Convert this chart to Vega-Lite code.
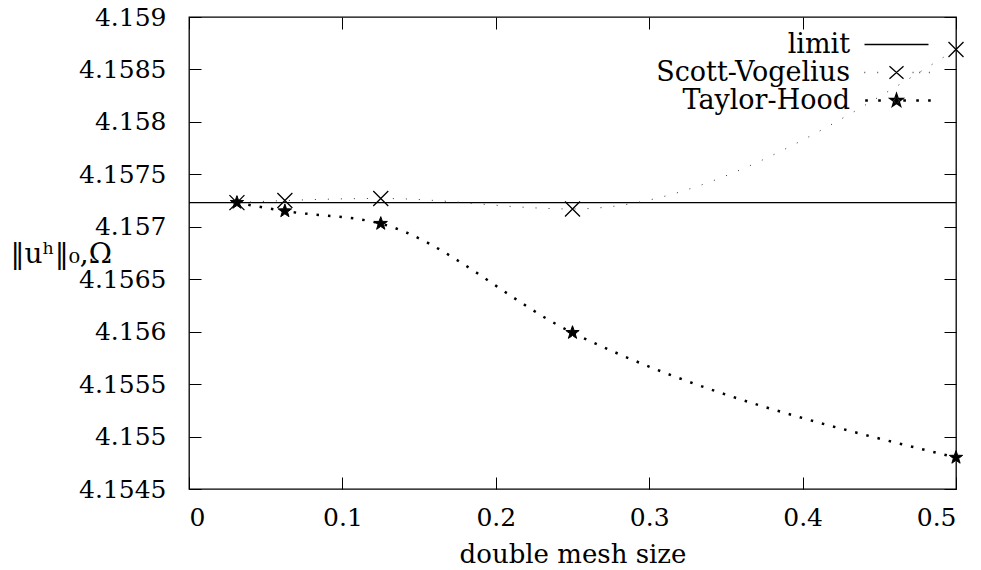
{
  "$schema": "https://vega.github.io/schema/vega-lite/v6.json",
  "width": 767,
  "height": 472,
  "autosize": "none",
  "padding": {"left": 189, "top": 17, "right": 25, "bottom": 81},
  "background": "white",
  "config": {
    "view": {"stroke": "black", "strokeWidth": 1.3},
    "font": "DejaVu Serif",
    "axis": {
      "domain": false, "grid": false, "tickColor": "black", "tickSize": -12, "tickWidth": 1,
      "labelFont": "DejaVu Serif", "labelFontSize": 25, "labelColor": "black",
      "titleFont": "DejaVu Serif", "titleFontSize": 26, "titleColor": "black", "titleFontWeight": "normal"
    }
  },
  "datasets": {
    "limit": [{"series": "limit", "value": 4.15723}],
    "runs": [
      {"series": "Scott-Vogelius", "h": 0.03125, "value": 4.15723},
      {"series": "Scott-Vogelius", "h": 0.0625, "value": 4.15725},
      {"series": "Scott-Vogelius", "h": 0.125, "value": 4.15727},
      {"series": "Scott-Vogelius", "h": 0.25, "value": 4.15717},
      {"series": "Scott-Vogelius", "h": 0.5, "value": 4.15869},
      {"series": "Taylor-Hood", "h": 0.03125, "value": 4.15723},
      {"series": "Taylor-Hood", "h": 0.0625, "value": 4.15715},
      {"series": "Taylor-Hood", "h": 0.125, "value": 4.15703},
      {"series": "Taylor-Hood", "h": 0.25, "value": 4.15599},
      {"series": "Taylor-Hood", "h": 0.5, "value": 4.1548}
    ]
  },
  "resolve": {"axis": {"x": "independent", "y": "independent"}},
  "layer": [
    {
      "data": {"name": "limit"},
      "mark": {"type": "rule", "color": "black", "strokeWidth": 1.3},
      "encoding": {
        "y": {"field": "value", "type": "quantitative", "scale": {"domain": [4.1545, 4.159], "zero": false, "nice": false}, "axis": null}
      }
    },
    {
      "data": {"name": "runs"},
      "transform": [{"filter": "datum.series === 'Scott-Vogelius'"}],
      "mark": {"type": "line", "interpolate": "monotone", "stroke": "#333333", "strokeWidth": 1, "strokeDash": [1, 12]},
      "encoding": {
        "x": {"field": "h", "type": "quantitative", "scale": {"domain": [0, 0.5], "zero": false, "nice": false},
          "axis": {"orient": "bottom", "values": [0, 0.1, 0.2, 0.3, 0.4, 0.5], "format": ".1~f", "labelPadding": 28.5, "title": "double mesh size", "titleY": 73, "titleBaseline": "alphabetic"}},
        "y": {"field": "value", "type": "quantitative", "scale": {"domain": [4.1545, 4.159], "zero": false, "nice": false},
          "axis": {"orient": "left", "values": [4.1545, 4.155, 4.1555, 4.156, 4.1565, 4.157, 4.1575, 4.158, 4.1585, 4.159], "format": ".4~f", "labelPadding": 35,
            "title": "‖uʰ‖₀,Ω", "titleAngle": 0, "titleAlign": "left", "titleBaseline": "alphabetic", "titleX": -179, "titleY": 245, "titleFontSize": 28}}
      }
    },
    {
      "data": {"name": "runs"},
      "transform": [{"filter": "datum.series === 'Taylor-Hood'"}],
      "mark": {"type": "line", "interpolate": "monotone", "stroke": "black", "strokeWidth": 2.5, "strokeDash": [2.5, 9]},
      "encoding": {
        "x": {"field": "h", "type": "quantitative", "scale": {"domain": [0, 0.5], "zero": false, "nice": false},
          "axis": {"orient": "top", "values": [0, 0.1, 0.2, 0.3, 0.4, 0.5], "labels": false, "title": null}},
        "y": {"field": "value", "type": "quantitative", "scale": {"domain": [4.1545, 4.159], "zero": false, "nice": false},
          "axis": {"orient": "right", "values": [4.1545, 4.155, 4.1555, 4.156, 4.1565, 4.157, 4.1575, 4.158, 4.1585, 4.159], "labels": false, "title": null}}
      }
    },
    {
      "data": {"name": "runs"},
      "transform": [{"filter": "datum.series === 'Scott-Vogelius'"}],
      "mark": {"type": "point", "shape": "M-1,-1L1,1M-1,1L1,-1", "filled": false, "stroke": "black", "strokeWidth": 1.3, "opacity": 1, "size": 225},
      "encoding": {
        "x": {"field": "h", "type": "quantitative", "scale": {"domain": [0, 0.5], "zero": false, "nice": false}, "axis": null},
        "y": {"field": "value", "type": "quantitative", "scale": {"domain": [4.1545, 4.159], "zero": false, "nice": false}, "axis": null}
      }
    },
    {
      "data": {"name": "runs"},
      "transform": [{"filter": "datum.series === 'Taylor-Hood'"}],
      "mark": {"type": "point", "shape": "M0,-1L0.235,-0.324L0.951,-0.309L0.38,0.124L0.588,0.809L0,0.4L-0.588,0.809L-0.38,0.124L-0.951,-0.309L-0.235,-0.324Z", "filled": true, "fill": "black", "stroke": "black", "strokeWidth": 1, "opacity": 1, "size": 196},
      "encoding": {
        "x": {"field": "h", "type": "quantitative", "scale": {"domain": [0, 0.5], "zero": false, "nice": false}, "axis": null},
        "y": {"field": "value", "type": "quantitative", "scale": {"domain": [4.1545, 4.159], "zero": false, "nice": false}, "axis": null}
      }
    },
    {
      "data": {"name": "runs"},
      "mark": {"type": "point", "filled": false, "stroke": "black", "strokeWidth": 1.3, "opacity": 0},
      "encoding": {
        "x": {"field": "h", "type": "quantitative", "scale": {"domain": [0, 0.5], "zero": false, "nice": false}, "axis": null},
        "y": {"field": "value", "type": "quantitative", "scale": {"domain": [4.1545, 4.159], "zero": false, "nice": false}, "axis": null},
        "shape": {"field": "series", "type": "nominal",
          "scale": {"domain": ["limit", "Scott-Vogelius", "Taylor-Hood"],
            "range": [
              "M-2.37,0H2.37",
              "M-0.52,-0.47L0.52,0.47M-0.52,0.47L0.52,-0.47M-2.37,0h0.05M-1.41,0h0.05M1.2,0h0.05M1.7,0h0.05M2.4,0h0.05",
              "M0,-0.533L0.125,-0.172L0.507,-0.165L0.203,0.066L0.313,0.431L0,0.213L-0.313,0.431L-0.203,0.066L-0.507,-0.165L-0.125,-0.172ZM0,0L0,-0.533M0,0L0.507,-0.165M0,0L0.313,0.431M0,0L-0.313,0.431M0,0L-0.507,-0.165M0,0L0.125,-0.172M0,0L0.203,0.066M0,0L0,0.213M0,0L-0.203,0.066M0,0L-0.125,-0.172M-2.27,-0.05h0.1v0.1h-0.1ZM-1.31,-0.05h0.1v0.1h-0.1ZM0.55,-0.05h0.1v0.1h-0.1ZM1.51,-0.05h0.1v0.1h-0.1ZM2.39,-0.05h0.1v0.1h-0.1Z"
            ]},
          "legend": {
            "orient": "none", "legendX": 693, "legendY": 13, "title": null,
            "labelFont": "DejaVu Serif", "labelFontSize": 27, "labelColor": "black", "labelLimit": 500,
            "labelAlign": "right", "labelOffset": -61, "symbolSize": 729, "symbolStrokeWidth": 1.3, "rowPadding": 0,
            "symbolOpacity": 1, "symbolStrokeColor": "black"
          }
        }
      }
    }
  ]
}
